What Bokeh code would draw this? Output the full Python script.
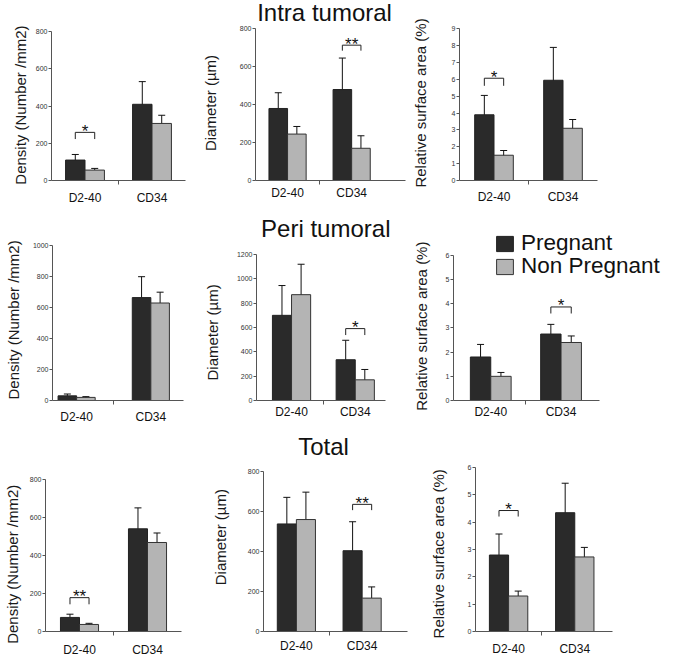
from bokeh.plotting import figure
from bokeh.layouts import column, row
from bokeh.models import (Range1d, FixedTicker, SingleIntervalTicker, Whisker, TeeHead,
                          ColumnDataSource, Legend, LegendItem)
from bokeh.core.properties import value
from bokeh.embed import file_html
from bokeh.resources import INLINE

# ---------------- data ----------------
categories = ["D2-40", "CD34"]
groups = ["Pregnant", "Non Pregnant"]
row_titles = ["Intra tumoral", "Peri tumoral", "Total"]
y_titles = ["Density (Number /mm2)", "Diameter (µm)", "Relative surface area (%)"]

# y axis maxima and tick steps (row-major, 3x3)
y_max = [800, 800, 9, 1000, 1200, 6, 800, 800, 6]
y_step = [200, 200, 1, 200, 200, 1, 200, 200, 1]

# Intra tumoral
intra_density_preg = [110, 410]
intra_density_preg_err = [30, 122]
intra_density_non = [56, 307]
intra_density_non_err = [9, 44]
intra_diameter_preg = [380, 480]
intra_diameter_preg_err = [83, 166]
intra_diameter_non = [245, 170]
intra_diameter_non_err = [40, 66]
intra_area_preg = [3.9, 5.95]
intra_area_preg_err = [1.15, 1.95]
intra_area_non = [1.5, 3.1]
intra_area_non_err = [0.28, 0.52]

# Peri tumoral
peri_density_preg = [30, 665]
peri_density_preg_err = [12, 135]
peri_density_non = [20, 630]
peri_density_non_err = [5, 70]
peri_diameter_preg = [700, 335]
peri_diameter_preg_err = [245, 160]
peri_diameter_non = [870, 170]
peri_diameter_non_err = [250, 85]
peri_area_preg = [1.8, 2.75]
peri_area_preg_err = [0.52, 0.4]
peri_area_non = [1.0, 2.4]
peri_area_non_err = [0.16, 0.27]

# Total
total_density_preg = [74, 540]
total_density_preg_err = [17, 110]
total_density_non = [37, 468]
total_density_non_err = [6, 50]
total_diameter_preg = [538, 404]
total_diameter_preg_err = [133, 145]
total_diameter_non = [560, 167]
total_diameter_non_err = [137, 56]
total_area_preg = [2.8, 4.35]
total_area_preg_err = [0.77, 1.08]
total_area_non = [1.3, 2.73]
total_area_non_err = [0.18, 0.35]

# significance brackets: panel index, category index, bracket top, bracket end, label
sig_panel = [0, 1, 2, 4, 5, 6, 7, 8]
sig_category = [0, 1, 0, 1, 1, 0, 1, 0]
sig_top = [259, 714, 6.07, 591, 3.87, 178, 636, 4.43]
sig_end = [223, 685, 5.62, 538, 3.6, 143, 607, 4.21]
sig_label = ["*", "**", "*", "*", "*", "**", "**", "*"]

series = [
    (intra_density_preg, intra_density_preg_err, intra_density_non, intra_density_non_err),
    (intra_diameter_preg, intra_diameter_preg_err, intra_diameter_non, intra_diameter_non_err),
    (intra_area_preg, intra_area_preg_err, intra_area_non, intra_area_non_err),
    (peri_density_preg, peri_density_preg_err, peri_density_non, peri_density_non_err),
    (peri_diameter_preg, peri_diameter_preg_err, peri_diameter_non, peri_diameter_non_err),
    (peri_area_preg, peri_area_preg_err, peri_area_non, peri_area_non_err),
    (total_density_preg, total_density_preg_err, total_density_non, total_density_non_err),
    (total_diameter_preg, total_diameter_preg_err, total_diameter_non, total_diameter_non_err),
    (total_area_preg, total_area_preg_err, total_area_non, total_area_non_err),
]

# ---------------- layout / style ----------------
SX = 0.976
SY = 0.976
TOTAL_W = 662
FONT = "Liberation Sans"
FONT_VALUE = value(FONT)
DARK = "#2a2a2a"
LIGHT = "#b4b4b4"
AXIS = "#555555"
NBSP = "\u00a0"

# rows in reference px: row top, row bottom, common frame top, common frame bottom
rows_ref = [(0, 221, 0, 184), (221, 442, 223, 410), (442, 677, 445, 647)]
# per panel: frame left, frame right, y of top tick (reference px)
panel_ref = [
    (52, 190, 32), (261, 415, 29), (467, 612, 29),
    (53, 187, 251), (262, 395, 260), (464, 613, 261),
    (40, 185, 491), (269, 417, 483), (487, 627, 479),
]
frame_ext_right = {4: 12, 5: 64}
# (leading, trailing) padding of y labels so they centre on their axis as in the reference
ylab_pad = {0: (0, 7), 1: (0, 6), 2: (0, 6), 3: (0, 5), 4: (0, 11), 5: (0, 8),
            6: (0, 15), 7: (0, 2), 8: (0, 10)}
# x range in half-group units (groups at 1 and 3)
x_ranges = [(0, 4), (0, 4.68), (0, 4), (0.35, 3.88), (-0.1, 3.96), (-0.06, 4.08),
            (0, 4), (0, 4.38), (0, 4.14)]
bar_w = [0.58, 0.58, 0.56, 0.5, 0.6, 0.58, 0.56, 0.58, 0.58]
ylab_standoff = [4, 18, 20, 8, 13, 13, 6, 16, 18]
xlab_standoff = [6, 1, 5, 5, 0, 0, 7, 3, 6]
# row titles drawn in the middle panel: left x, baseline y (reference px)
glyph_title = {1: (263, 12.6), 4: (267, 233.6), 7: (305, 457.6)}


def make_panel(i, width, height, borders, geom):
    ymax, step = y_max[i], y_step[i]
    preg, preg_err, non, non_err = series[i]
    bl, br, bt, bb = borders
    fx0, fx1, ft, fb, axis_top, x_scale_frac = geom
    xs0, xs1 = x_ranges[i]
    y_end = ymax * (fb - ft) / (fb - axis_top)
    x_end = xs0 + (xs1 - xs0) * x_scale_frac
    p = figure(width=width, height=height, x_range=Range1d(xs0, x_end),
               y_range=Range1d(0, y_end), output_backend="svg", toolbar_location=None,
               title=None, min_border_left=bl, min_border_right=br, min_border_top=bt,
               min_border_bottom=bb)
    p.xgrid.visible = False
    p.ygrid.visible = False
    p.outline_line_color = None

    w = bar_w[i]
    xp = [2 * k + 1 - w / 2 for k in range(len(categories))]
    xn = [2 * k + 1 + w / 2 for k in range(len(categories))]
    src_p = ColumnDataSource(dict(x=xp, top=preg,
                                  upper=[a + b for a, b in zip(preg, preg_err)],
                                  lower=[a - b for a, b in zip(preg, preg_err)]))
    src_n = ColumnDataSource(dict(x=xn, top=non,
                                  upper=[a + b for a, b in zip(non, non_err)],
                                  lower=[a - b for a, b in zip(non, non_err)]))
    rp = p.vbar(x="x", top="top", width=w, bottom=0, source=src_p,
                fill_color=DARK, line_color="#222222", line_width=1)
    rn = p.vbar(x="x", top="top", width=w, bottom=0, source=src_n,
                fill_color=LIGHT, line_color="#333333", line_width=1)
    for src in (src_p, src_n):
        p.add_layout(Whisker(source=src, base="x", upper="upper", lower="lower",
                             line_color="#111111", line_width=1,
                             upper_head=TeeHead(size=7, line_color="#111111", line_width=1),
                             lower_head=TeeHead(size=7, line_color="#111111", line_width=1)))

    # significance brackets
    bx, by, tx, ty, tt = [], [], [], [], []
    for pi, ci, top, end, lab in zip(sig_panel, sig_category, sig_top, sig_end, sig_label):
        if pi != i:
            continue
        a, b = xp[ci], xn[ci]
        bx.append([a, a, b, b])
        by.append([end, top, top, end])
        tx.append((a + b) / 2)
        ty.append(top)
        tt.append(lab)
    if bx:
        p.multi_line(xs=bx, ys=by, line_color="#222222", line_width=1)
        p.text(x=tx, y=ty, text=tt, text_align="center", text_baseline="alphabetic",
               text_font_size="17px", text_font=FONT_VALUE, text_color="#111111", y_offset=-1)

    # y axis
    lead, trail = ylab_pad.get(i, (0, 0))
    ya = p.yaxis[0]
    ya.ticker = SingleIntervalTicker(interval=step, num_minor_ticks=0)
    ya.bounds = (0, ymax)
    ya.axis_label = NBSP * lead + y_titles[i % 3] + NBSP * trail
    ya.axis_label_text_font = FONT
    ya.axis_label_text_font_size = "15px"
    ya.axis_label_text_font_style = "normal"
    ya.axis_label_text_color = "#1a1a1a"
    ya.axis_label_standoff = ylab_standoff[i]
    ya.major_label_text_font = FONT
    ya.major_label_text_font_size = "7px"
    ya.major_label_text_color = "#333333"
    ya.major_label_standoff = 1
    ya.major_tick_out = 3
    ya.major_tick_in = 0
    ya.minor_tick_line_color = None
    ya.axis_line_color = AXIS
    ya.major_tick_line_color = AXIS

    # x axis
    xa = p.xaxis[0]
    xa.axis_label = None
    xa.axis_label_standoff = 0
    xa.axis_label_text_font_size = "0px"
    xa.bounds = (xs0, xs1)
    xa.ticker = FixedTicker(ticks=[2 * k + 1 for k in range(len(categories))],
                            minor_ticks=[2 * k for k in range(1, len(categories))])
    xa.major_label_overrides = {2 * k + 1: c for k, c in enumerate(categories)}
    xa.major_tick_out = 0
    xa.major_tick_in = 0
    xa.major_tick_line_color = None
    xa.minor_tick_out = 4
    xa.minor_tick_in = 0
    xa.minor_tick_line_color = AXIS
    xa.axis_line_color = AXIS
    xa.major_label_text_font = FONT
    xa.major_label_text_font_size = "12px"
    xa.major_label_text_color = "#111111"
    xa.major_label_standoff = xlab_standoff[i]

    if i in glyph_title:
        lx, by_ref = glyph_title[i]
        tx_d = xs0 + (lx * SX - fx0) / (fx1 - fx0) * (x_end - xs0)
        ty_d = (fb - by_ref * SY) / (fb - ft) * y_end
        p.text(x=[tx_d], y=[ty_d], text=[row_titles[i // 3]], text_align="left",
               text_baseline="alphabetic", text_font=FONT_VALUE, text_font_size="24px",
               text_color="#111111")
    return p, rp, rn


rows = []
panels = {}
for r, (rt, rb, ft_ref, fb_ref) in enumerate(rows_ref):
    row_top = round(rt * SY)
    row_h = round(rb * SY) - row_top
    ft, fb = ft_ref * SY, fb_ref * SY
    cell_left = 0
    figs = []
    for c in range(3):
        i = r * 3 + c
        x0, x1, y0 = panel_ref[i]
        er = frame_ext_right.get(i, 0)
        fx0 = round(x0 * SX)
        fx1 = min(round((x1 + er) * SX), TOTAL_W)
        cell_right = TOTAL_W if c == 2 else fx1 + 3
        geom = (fx0, fx1, ft, fb, y0 * SY, (x1 - x0 + er) / (x1 - x0))
        p, rp, rn = make_panel(i, cell_right - cell_left, row_h,
                               (fx0 - cell_left, cell_right - fx1,
                                round(ft) - row_top, row_h - (round(fb) - row_top)),
                               geom)
        panels[i] = (p, rp, rn, fx0, round(fb))
        figs.append(p)
        cell_left = cell_right
    rows.append(row(*figs))

# legend inside the (extended) peri-tumoral area panel
p6, rp6, rn6, fx0_6, fyb_6 = panels[5]
legend_center_ref = [239.5, 263.5]
for k, (lab, rend) in enumerate(zip(groups, [rp6, rn6])):
    bottom = round(legend_center_ref[k] * SY) + 22
    leg = Legend(items=[LegendItem(label=lab, renderers=[rend])],
                 location=(round(504 * SX) - fx0_6 + 2, fyb_6 - bottom),
                 padding=0, margin=0, spacing=0, border_line_alpha=0,
                 background_fill_alpha=0, glyph_width=21, glyph_height=19,
                 label_standoff=6, label_text_font=FONT, label_text_font_size="22.5px",
                 label_text_color="#111111", label_height=19)
    p6.add_layout(leg)

layout = column(*rows)
open("out.html", "w").write(file_html(layout, INLINE))
